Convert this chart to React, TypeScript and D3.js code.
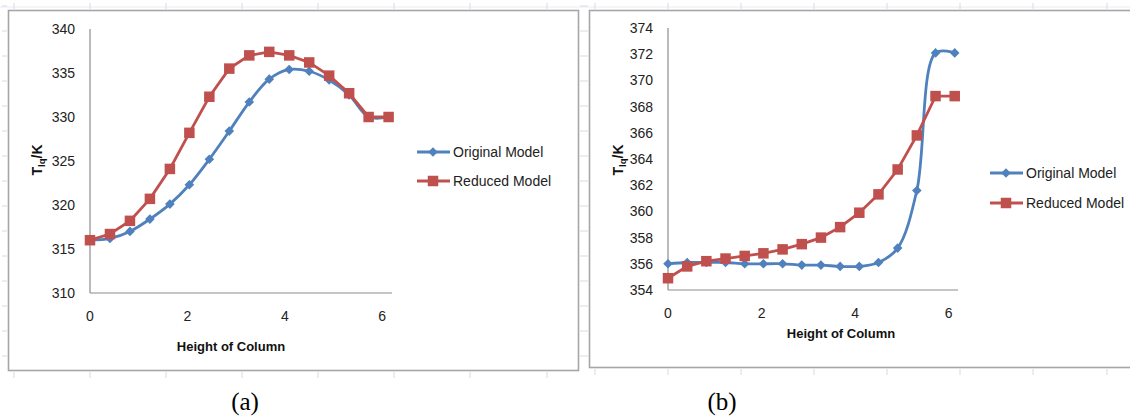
import React from "react";
import * as d3 from "d3";

const heights = [0, 0.41, 0.82, 1.23, 1.64, 2.04, 2.45, 2.86, 3.27, 3.68, 4.09, 4.5, 4.91, 5.32, 5.72, 6.13];
const origA = [316.0, 316.2, 317.0, 318.4, 320.1, 322.3, 325.2, 328.4, 331.7, 334.3, 335.4, 335.2, 334.2, 332.5, 330.0, 330.0];
const redA = [316.0, 316.7, 318.2, 320.7, 324.1, 328.2, 332.3, 335.5, 337.0, 337.4, 337.0, 336.2, 334.7, 332.7, 330.0, 330.0];
const origB = [356.0, 356.1, 356.1, 356.1, 356.0, 356.0, 356.0, 355.9, 355.9, 355.8, 355.8, 356.1, 357.2, 361.6, 372.1, 372.1];
const redB = [354.9, 355.8, 356.2, 356.4, 356.6, 356.8, 357.1, 357.5, 358.0, 358.8, 359.9, 361.3, 363.2, 365.8, 368.8, 368.8];
const seriesNames = ["Original Model", "Reduced Model"];
const xTicks = [0, 2, 4, 6];
const yTicksA = [310, 315, 320, 325, 330, 335, 340];
const yTicksB = [354, 356, 358, 360, 362, 364, 366, 368, 370, 372, 374];
const xTitle = "Height of Column";
const panelLabels = ["(a)", "(b)"];

const BLUE = "#4F81BD";
const RED = "#C0504D";
const FONT = "'Liberation Sans', Arial, sans-serif";

type PanelProps = {
  x0: number; x1: number; y0: number; y1: number;
  yDomain: [number, number]; yTicks: number[];
  orig: number[]; red: number[];
  legendX: number; legendY: number; legendGap: number;
  titleX: number; titleY: number; xLabelY: number; yTitleX: number; yTitleY: number;
};

function Panel(p: PanelProps) {
  const xs = d3.scaleLinear().domain([0, 6.2]).range([p.x0, p.x1]);
  const ys = d3.scaleLinear().domain(p.yDomain).range([p.y1, p.y0]);
  const blueLine = d3.line<number>().x((_, i) => xs(heights[i])).y((d) => ys(d)).curve(d3.curveCatmullRom.alpha(0.5));
  const redLine = d3.line<number>().x((_, i) => xs(heights[i])).y((d) => ys(d)).curve(d3.curveLinear);
  const diamond = (cx: number, cy: number, r = 4.8) => `M${cx},${cy - r}L${cx + r},${cy}L${cx},${cy + r}L${cx - r},${cy}Z`;
  const sq = 10.5;
  return (
    <g>
      <line x1={p.x0} x2={p.x0} y1={p.y0} y2={p.y1} stroke="#8c8c8c" strokeWidth={1.2} />
      <line x1={p.x0} x2={p.x1} y1={p.y1} y2={p.y1} stroke="#8c8c8c" strokeWidth={1.2} />
      {p.yTicks.map((t) => (
        <text key={t} x={p.x0 - 15} y={ys(t)} dy="0.35em" textAnchor="end" fontFamily={FONT} fontSize={14} fill="#222">{t}</text>
      ))}
      {xTicks.map((t) => (
        <text key={t} x={xs(t)} y={p.xLabelY} dy="0.35em" textAnchor="middle" fontFamily={FONT} fontSize={14} fill="#222">{t}</text>
      ))}
      <text x={p.titleX} y={p.titleY} dy="0.35em" textAnchor="middle" fontFamily={FONT} fontSize={13} fontWeight="bold" fill="#111">{xTitle}</text>
      <text transform={`translate(${p.yTitleX},${p.yTitleY}) rotate(-90)`} textAnchor="middle" fontFamily={FONT} fontSize={14} fontWeight="bold" fill="#111">
        T<tspan fontSize={9.5} dy={3}>lq</tspan><tspan dy={-3}>/K</tspan>
      </text>
      <path d={blueLine(p.orig) || ""} fill="none" stroke={BLUE} strokeWidth={2.8} />
      {p.orig.map((v, i) => (
        <path key={i} d={diamond(xs(heights[i]), ys(v))} fill={BLUE} />
      ))}
      <path d={redLine(p.red) || ""} fill="none" stroke={RED} strokeWidth={2.8} />
      {p.red.map((v, i) => (
        <rect key={i} x={xs(heights[i]) - sq / 2} y={ys(v) - sq / 2} width={sq} height={sq} fill={RED} />
      ))}
      {/* legend */}
      <line x1={p.legendX} x2={p.legendX + 33} y1={p.legendY} y2={p.legendY} stroke={BLUE} strokeWidth={2.8} />
      <path d={diamond(p.legendX + 16, p.legendY)} fill={BLUE} />
      <text x={p.legendX + 36} y={p.legendY} dy="0.35em" fontFamily={FONT} fontSize={14} fill="#222">{seriesNames[0]}</text>
      <line x1={p.legendX} x2={p.legendX + 33} y1={p.legendY + p.legendGap} y2={p.legendY + p.legendGap} stroke={RED} strokeWidth={2.8} />
      <rect x={p.legendX + 16 - sq / 2} y={p.legendY + p.legendGap - sq / 2} width={sq} height={sq} fill={RED} />
      <text x={p.legendX + 36} y={p.legendY + p.legendGap} dy="0.35em" fontFamily={FONT} fontSize={14} fill="#222">{seriesNames[1]}</text>
    </g>
  );
}

const colsA = [14, 90, 166, 242, 318, 394, 470, 547];
const colsB = [595, 668, 741, 814, 887, 960, 1033, 1107];
const rows = d3.range(0, 15).map((k) => 6 + 25 * k);

export default function App() {
  const faint = "#d4dbe8";
  return (
    <svg width={1130} height={417} style={{ position: "absolute", left: 0, top: 0, background: "#fff" }}>
      <rect width={1130} height={417} fill="#fff" />
      {/* faint sheet grid marks */}
      <line x1={0} x2={1130} y1={7} y2={7} stroke="#e8ecf3" strokeWidth={1} />
      {colsA.map((x) => <line key={"ta" + x} x1={x} x2={x} y1={3} y2={9} stroke={faint} />)}
      {colsB.map((x) => <line key={"tb" + x} x1={x} x2={x} y1={3} y2={9} stroke={faint} />)}
      {colsA.map((x) => <line key={"ba" + x} x1={x} x2={x} y1={372} y2={378} stroke={faint} />)}
      {colsB.map((x) => <line key={"bb" + x} x1={x} x2={x} y1={369} y2={375} stroke={faint} />)}
      {rows.map((y) => <line key={"la" + y} x1={2} x2={7} y1={y} y2={y} stroke={faint} />)}
      {rows.map((y) => <line key={"lb" + y} x1={580} x2={588} y1={y} y2={y} stroke={faint} />)}
      {/* frames */}
      <rect x={8.5} y={10.5} width={570} height={360} fill="#fff" stroke="#a6a6a6" strokeWidth={1.6} />
      <rect x={589.5} y={10.5} width={560} height={357} fill="#fff" stroke="#a6a6a6" strokeWidth={1.6} />
      <Panel x0={90} x1={392} y0={29} y1={293} yDomain={[310, 340]} yTicks={yTicksA} orig={origA} red={redA}
        legendX={417} legendY={152} legendGap={29} titleX={231} titleY={346} xLabelY={316} yTitleX={42} yTitleY={160} />
      <Panel x0={668} x1={958} y0={28} y1={290} yDomain={[354, 374]} yTicks={yTicksB} orig={origB} red={redB}
        legendX={990} legendY={173} legendGap={30} titleX={841} titleY={333} xLabelY={313} yTitleX={623} yTitleY={160} />
      <text x={245} y={410} textAnchor="middle" fontFamily="'Liberation Serif', 'Times New Roman', serif" fontSize={25} fill="#000">{panelLabels[0]}</text>
      <text x={722} y={410} textAnchor="middle" fontFamily="'Liberation Serif', 'Times New Roman', serif" fontSize={25} fill="#000">{panelLabels[1]}</text>
    </svg>
  );
}
